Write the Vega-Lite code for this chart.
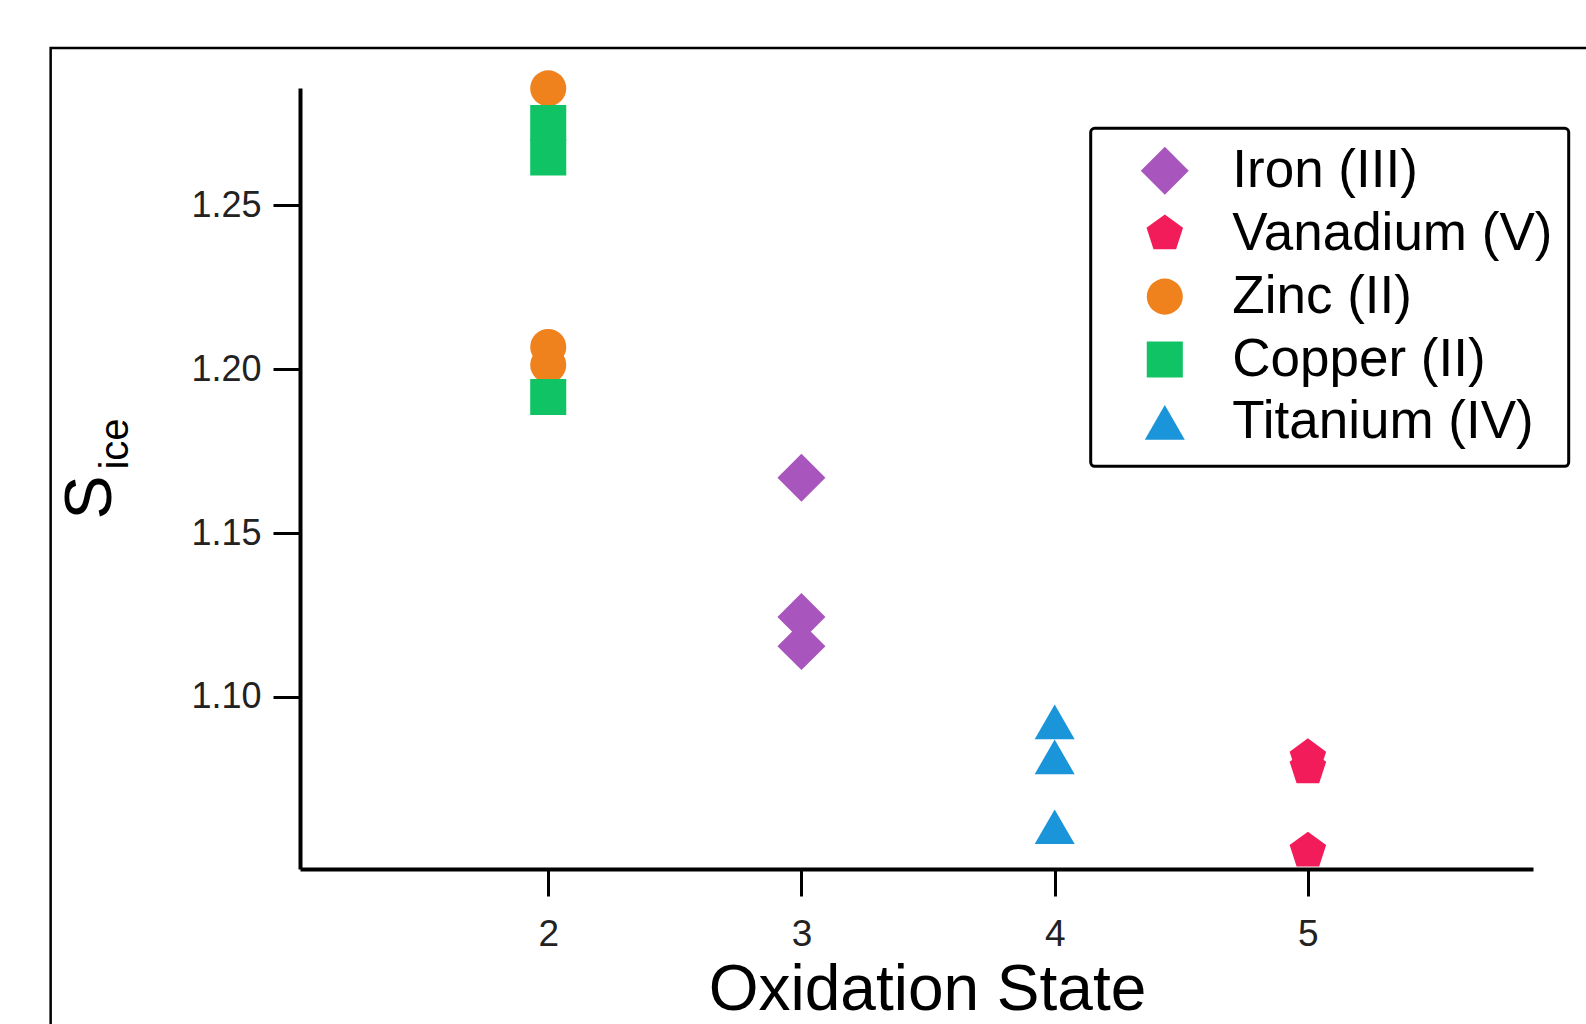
{
  "$schema": "https://vega.github.io/schema/vega-lite/v6.json",
  "width": 1233,
  "height": 781,
  "autosize": {"type": "none"},
  "padding": {"left": 300, "top": 88, "right": 53, "bottom": 155},
  "background": "white",
  "config": {
    "view": {"stroke": null},
    "font": "Liberation Sans",
    "legend": {
      "orient": "none",
      "legendX": 790.7,
      "legendY": 40.3,
      "strokeColor": "black",
      "strokeWidth": 3,
      "cornerRadius": 4,
      "padding": 16,
      "fillColor": "white",
      "labelFontSize": 53,
      "labelColor": "black",
      "labelFont": "Liberation Sans",
      "labelLimit": 700,
      "symbolOffset": 31.6,
      "labelOffset": 41,
      "rowPadding": 8.9,
      "symbolStrokeWidth": 0,
      "symbolOpacity": 1
    }
  },
  "resolve": {"axis": {"y": "independent"}},
  "layer": [
    {
      "data": {"values": [{}]},
      "mark": {"type": "rect", "filled": false, "stroke": "black", "strokeWidth": 2.5, "clip": false},
      "encoding": {
        "x": {"datum": 0.035, "type": "quantitative", "scale": {"domain": [1.0197, 5.889], "nice": false, "zero": false}},
        "x2": {"datum": 7},
        "y": {"datum": 1.298, "type": "quantitative", "scale": {"domain": [1.0475, 1.2858], "nice": false, "zero": false}, "axis": null},
        "y2": {"datum": 0.9}
      }
    },
    {
      "data": {"values": [
        {"metal": "Iron (III)", "state": 3, "sice": 1.1669},
        {"metal": "Iron (III)", "state": 3, "sice": 1.1244},
        {"metal": "Iron (III)", "state": 3, "sice": 1.1155},
        {"metal": "Vanadium (V)", "state": 5, "sice": 1.0815},
        {"metal": "Vanadium (V)", "state": 5, "sice": 1.0784},
        {"metal": "Vanadium (V)", "state": 5, "sice": 1.0530},
        {"metal": "Zinc (II)", "state": 2, "sice": 1.2857},
        {"metal": "Zinc (II)", "state": 2, "sice": 1.2068},
        {"metal": "Zinc (II)", "state": 2, "sice": 1.2013},
        {"metal": "Copper (II)", "state": 2, "sice": 1.2751},
        {"metal": "Copper (II)", "state": 2, "sice": 1.2646},
        {"metal": "Copper (II)", "state": 2, "sice": 1.1915},
        {"metal": "Titanium (IV)", "state": 4, "sice": 1.0924},
        {"metal": "Titanium (IV)", "state": 4, "sice": 1.0817},
        {"metal": "Titanium (IV)", "state": 4, "sice": 1.0604}
      ]},
      "mark": {"type": "point", "filled": true, "opacity": 1, "strokeWidth": 0},
      "encoding": {
        "x": {
          "field": "state", "type": "quantitative",
          "scale": {"domain": [1.0197, 5.889], "nice": false, "zero": false},
          "axis": {
            "values": [2, 3, 4, 5], "format": "d", "title": "Oxidation State", "grid": false,
            "domainColor": "black", "domainWidth": 4, "tickColor": "black", "tickWidth": 3, "tickSize": 27,
            "labelFontSize": 37, "labelColor": "#222", "labelPadding": 20,
            "titleFontSize": 64, "titleFontWeight": "normal", "titleColor": "black",
            "titleX": 627, "titleY": 140, "titleBaseline": "alphabetic", "titleAlign": "center"
          }
        },
        "y": {
          "field": "sice", "type": "quantitative",
          "scale": {"domain": [1.0475, 1.2858], "nice": false, "zero": false},
          "axis": {
            "values": [1.10, 1.15, 1.20, 1.25], "format": ".2f", "title": "S", "grid": false, "orient": "left",
            "domainColor": "black", "domainWidth": 4, "tickColor": "black", "tickWidth": 3, "tickSize": 27,
            "labelFontSize": 36, "labelColor": "#222", "labelPadding": 12,
            "titleFontSize": 66, "titleFontWeight": "normal", "titleColor": "black",
            "titleX": -189.5, "titleY": 409, "titleBaseline": "alphabetic", "titleAngle": 270, "titleAlign": "center"
          }
        },
        "color": {
          "field": "metal", "type": "nominal",
          "scale": {
            "domain": ["Iron (III)", "Vanadium (V)", "Zinc (II)", "Copper (II)", "Titanium (IV)"],
            "range": ["#A855BE", "#F21C5B", "#F0821E", "#10C465", "#1A95D9"]
          },
          "legend": {"title": null}
        },
        "shape": {
          "field": "metal", "type": "nominal",
          "scale": {
            "domain": ["Iron (III)", "Vanadium (V)", "Zinc (II)", "Copper (II)", "Titanium (IV)"],
            "range": ["diamond", "M0,-1L0.951,-0.309L0.588,0.809L-0.588,0.809L-0.951,-0.309Z", "circle", "square", "triangle-up"]
          },
          "legend": {"title": null}
        },
        "size": {
          "field": "metal", "type": "nominal",
          "scale": {
            "type": "ordinal",
            "domain": ["Iron (III)", "Vanadium (V)", "Zinc (II)", "Copper (II)", "Titanium (IV)"],
            "range": [2300, 1475, 1300, 1300, 1600]
          },
          "legend": {"title": null}
        }
      }
    },
    {
      "data": {"values": [{"sice": 1.1}]},
      "mark": {"type": "point", "opacity": 0},
      "encoding": {
        "y": {
          "field": "sice", "type": "quantitative",
          "scale": {"domain": [1.0475, 1.2858], "nice": false, "zero": false},
          "axis": {
            "title": "ice", "orient": "left", "labels": false, "ticks": false, "domain": false, "grid": false,
            "titleFontSize": 40, "titleFontWeight": "normal", "titleColor": "black",
            "titleX": -173, "titleY": 355.5, "titleBaseline": "alphabetic", "titleAngle": 270, "titleAlign": "center"
          }
        }
      }
    }
  ]
}
